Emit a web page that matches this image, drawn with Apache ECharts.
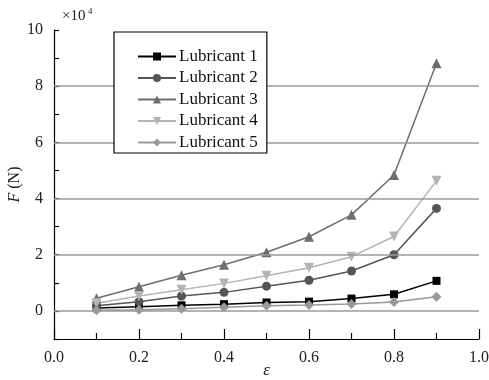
<!DOCTYPE html>
<html>
<head>
<meta charset="utf-8">
<script src="https://cdn.jsdelivr.net/npm/echarts@6/dist/echarts.min.js"></script>
<style>
  html, body { margin: 0; padding: 0; background: #fff; }
  #chart { width: 489px; height: 380px; }
</style>
</head>
<body>
<div id="chart"></div>
<script>
// Strain values (ε) and compaction force F in units of 10^4 N
const strain = [0.1, 0.2, 0.3, 0.4, 0.5, 0.6, 0.7, 0.8, 0.9];
const lubricant1 = [0.10, 0.15, 0.20, 0.24, 0.30, 0.33, 0.44, 0.59, 1.07];
const lubricant2 = [0.18, 0.33, 0.53, 0.66, 0.88, 1.09, 1.42, 2.00, 3.65];
const lubricant3 = [0.45, 0.86, 1.27, 1.64, 2.09, 2.64, 3.42, 4.84, 8.82];
const lubricant4 = [0.27, 0.53, 0.75, 0.98, 1.25, 1.54, 1.93, 2.65, 4.63];
const lubricant5 = [0.02, 0.04, 0.08, 0.13, 0.18, 0.21, 0.25, 0.32, 0.50];
const seriesNames = ['Lubricant 1', 'Lubricant 2', 'Lubricant 3', 'Lubricant 4', 'Lubricant 5'];
const gridValues = [0, 2, 4, 6, 8];

const serif = '"Liberation Serif", "DejaVu Serif", serif';

const styles = [
  { data: lubricant1, color: '#000000', symbol: 'rect', size: 8 },
  { data: lubricant2, color: '#555555', symbol: 'circle', size: 9 },
  { data: lubricant3, color: '#6e6e6e', symbol: 'triangle', size: 10 },
  { data: lubricant4, color: '#b4b4b4', symbol: 'path://M0,0 L10,0 L5,9 Z', size: 10 },
  { data: lubricant5, color: '#999999', symbol: 'diamond', size: 10 }
];

const chart = echarts.init(document.getElementById('chart'), null, { renderer: 'canvas' });

const series = [{
  type: 'line',
  data: [],
  silent: true,
  z: 1,
  markLine: {
    silent: true,
    symbol: 'none',
    label: { show: false },
    lineStyle: { color: '#9a9a9a', width: 1.5, type: 'solid' },
    data: gridValues.map(v => ({ yAxis: v }))
  }
}];

styles.forEach((s, i) => {
  series.push({
    name: seriesNames[i],
    type: 'line',
    z: 3,
    data: strain.map((x, j) => [x, s.data[j]]),
    symbol: s.symbol,
    symbolSize: s.size,
    showAllSymbol: true,
    lineStyle: { color: s.color, width: 1.5 },
    itemStyle: { color: s.color, borderWidth: 0 }
  });
});

chart.setOption({
  animation: false,
  backgroundColor: '#ffffff',
  grid: { left: 54, right: 10, top: 30, bottom: 41, containLabel: false, outerBoundsMode: 'none' },
  legend: {
    data: seriesNames,
    orient: 'vertical',
    z: 20,
    left: 114,
    top: 32,
    width: 154,
    itemWidth: 38,
    itemHeight: 10,
    itemGap: 4.5,
    padding: [16, 9, 2, 23],
    borderColor: '#000',
    borderWidth: 1.2,
    backgroundColor: '#fff',
    textStyle: { fontFamily: serif, fontSize: 17, color: '#111', padding: [0, 0, 0, -2] }
  },
  xAxis: {
    type: 'value',
    min: 0,
    max: 1,
    interval: 0.2,
    name: 'ε',
    nameLocation: 'middle',
    nameGap: 23,
    nameMoveOverlap: false,
    nameTextStyle: { fontFamily: serif, fontSize: 17, fontStyle: 'italic', color: '#222' },
    axisLine: { show: true, onZero: false, lineStyle: { color: '#000', width: 1.2 } },
    axisTick: { show: true, inside: true, length: 10, lineStyle: { color: '#000', width: 1.2 } },
    minorTick: { show: true, splitNumber: 2, length: 6, lineStyle: { color: '#000', width: 1.2 } },
    splitLine: { show: false },
    axisLabel: {
      margin: 11,
      fontFamily: serif, fontSize: 16, color: '#222',
      formatter: v => v.toFixed(1)
    }
  },
  yAxis: {
    type: 'value',
    min: -1,
    max: 10,
    interval: 1,
    name: '{i|F} (N)',
    nameLocation: 'middle',
    nameGap: 31,
    nameMoveOverlap: false,
    nameTextStyle: {
      fontFamily: serif, fontSize: 16, color: '#222',
      rich: { i: { fontFamily: serif, fontSize: 16, fontStyle: 'italic', color: '#222' } }
    },
    axisLine: { show: true, onZero: false, lineStyle: { color: '#000', width: 1.2 } },
    axisTick: { show: true, inside: true, length: 5, lineStyle: { color: '#000', width: 1.2 } },
    splitLine: { show: false },
    axisLabel: {
      margin: 11,
      fontFamily: serif, fontSize: 16, color: '#222',
      formatter: v => (v >= 0 && v % 2 === 0) ? String(v) : ''
    }
  },
  graphic: [
    { type: 'text', left: 62, top: 9, style: { text: '×10', font: '15px ' + serif, fill: '#222' } },
    { type: 'text', left: 88, top: 7, style: { text: '4', font: '9px ' + serif, fill: '#222' } }
  ],
  series: series
});
</script>
</body>
</html>
